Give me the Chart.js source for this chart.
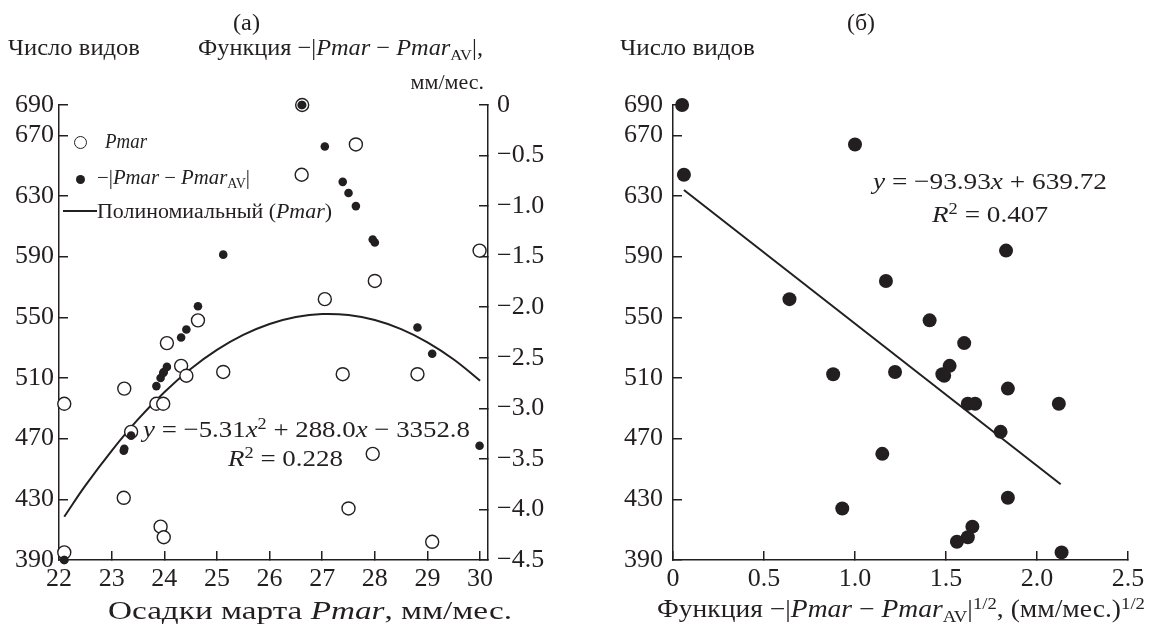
<!DOCTYPE html>
<html lang="ru">
<head>
<meta charset="utf-8">
<script src="https://cdn.jsdelivr.net/npm/chart.js@4.4.1/dist/chart.umd.min.js"></script>
<style>
  body { margin: 0; background: #fff; }
  #wrap { position: relative; width: 1152px; height: 626px; overflow: hidden;
          font-family: "Liberation Serif", "Times New Roman", serif; color: #231f20; }
  canvas { position: absolute; top: 0; }
  #chartA { left: 0; }
  #chartB { left: 576px; }
  .lbl { position: absolute; white-space: nowrap; line-height: 1; font-size: 23px; transform-origin: 0 0; }
  .lbl.eq { font-size: 24px; }
  .lbl.leg { font-size: 20px; }
  .lbl.xt { font-size: 25px; }
  .lbl sub { font-size: 0.68em; vertical-align: -0.3em; line-height: 0; }
  .lbl sup { font-size: 0.68em; vertical-align: 0.5em; line-height: 0; }
  .mark { position: absolute; box-sizing: border-box; border-radius: 50%; }
</style>
</head>
<body>
<div id="wrap">
  <canvas id="chartA" width="576" height="626"></canvas>
  <canvas id="chartB" width="576" height="626"></canvas>

  <div class="lbl" data-w="27" style="left:233px;top:11px">(а)</div>
  <div class="lbl" data-w="132" style="left:8px;top:36px">Число видов</div>
  <div class="lbl" data-w="285" style="left:198px;top:36px">Функция −|<i>Pmar</i> − <i>Pmar</i><sub>AV</sub>|,</div>
  <div class="lbl" style="right:668px;top:71px;font-size:22px">мм/мес.</div>

  <div class="lbl" data-w="28" style="left:847px;top:11px">(б)</div>
  <div class="lbl" data-w="135" style="left:620px;top:36px">Число видов</div>

  <div class="mark" style="left:73.5px;top:135.5px;width:13px;height:13px;border:1.4px solid #231f20;background:#fff"></div>
  <div class="lbl leg" data-w="42" style="left:105px;top:131px"><i>Pmar</i></div>
  <div class="mark" style="left:75.5px;top:174.5px;width:9px;height:9px;background:#231f20"></div>
  <div class="lbl leg" data-w="153" style="left:97px;top:167px">−|<i>Pmar</i> − <i>Pmar</i><sub>AV</sub>|</div>
  <div style="position:absolute;left:63px;top:210px;width:34px;height:2px;background:#231f20"></div>
  <div class="lbl leg" data-w="235" style="left:97px;top:201px">Полиномиальный (<i>Pmar</i>)</div>

  <div class="lbl eq" data-w="327" style="left:143px;top:417px"><i>y</i> = −5.31<i>x</i><sup>2</sup> + 288.0<i>x</i> − 3352.8</div>
  <div class="lbl eq" data-w="115" style="left:228px;top:446px"><i>R</i><sup>2</sup> = 0.228</div>
  <div class="lbl eq" data-w="234" style="left:873px;top:169px"><i>y</i> = −93.93<i>x</i> + 639.72</div>
  <div class="lbl eq" data-w="116" style="left:932px;top:202px"><i>R</i><sup>2</sup> = 0.407</div>

  <div class="lbl xt" data-w="404" style="left:108px;top:598px">Осадки марта <i>Pmar</i>, мм/мес.</div>
  <div class="lbl xt" data-w="488" style="left:657px;top:596px">Функция −|<i>Pmar</i> − <i>Pmar</i><sub>AV</sub>|<sup>1/2</sup>, (мм/мес.)<sup>1/2</sup></div>
</div>

<script>
// panel (а): March precipitation, number of species, and -|Pmar - PmarAV|
const pmarX = [26.62, 26.61, 27.64, 27.05, 28.0, 29.99, 24.64, 24.05, 25.12, 24.32, 24.42, 27.39, 28.81,
  23.24, 22.1, 23.85, 23.98, 23.37, 27.96, 23.23, 27.5, 23.93, 23.99, 29.09, 22.1];
const speciesCount = [690, 644, 664, 562, 574, 594, 548, 533, 514, 518, 511.5, 512.5, 512.5,
  503, 493, 493, 493, 474.5, 460, 431, 424, 412, 405, 402, 395];
const pmarDev = [0, 0, -1.0, -0.41, -1.36, -3.37, -1.99, -2.59, -1.48, -2.3, -2.22, -0.76, -2.2,
  -3.4, -4.5, -2.78, -2.65, -3.27, -1.33, -3.42, -0.87, -2.7, -2.64, -2.46, -4.5];

// polynomial trend (а)
const polyX = [22.1, 22.5, 23, 23.5, 24, 24.5, 25, 25.5, 26, 26.5, 27, 27.5, 28, 28.5, 29, 29.5, 30];
const polyY = [418.5, 439, 462, 482.7, 500.6, 515.9, 528.5, 538.4, 545.6, 550.2, 552.2, 551.5,
  548.2, 542.2, 533.5, 522.2, 508.2];

// panel (б): |Pmar - PmarAV|^1/2 for the same years
const devRootX = [0.05, 0.06, 1.0, 0.64, 1.17, 1.83, 1.41, 1.6, 1.22, 1.52, 1.49, 0.88, 1.48,
  1.84, 2.12, 1.66, 1.62, 1.8, 1.15, 1.84, 0.93, 1.645, 1.62, 1.56, 2.135];
const linX = [0.06, 2.13];
const linY = [634, 440];

// tick labels
const countTicks = [390, 430, 470, 510, 550, 590, 630, 670, 690];
const devTicks = [0, -0.5, -1.0, -1.5, -2.0, -2.5, -3.0, -3.5, -4.0, -4.5];
const pmarTicks = [22, 23, 24, 25, 26, 27, 28, 29, 30];
const rootTicks = [0, 0.5, 1.0, 1.5, 2.0, 2.5];

const ink = "#231f20";
Chart.defaults.font.family = "'Liberation Serif', 'Times New Roman', serif";
Chart.defaults.color = ink;

const tickFont = { size: 26 };

function fixedTicks(values) {
  return (scale) => { scale.ticks = values.map((v) => ({ value: v })); };
}

function yAxis(position, min, max, values, width, fmt, pad) {
  return {
    type: "linear",
    position,
    min,
    max,
    afterBuildTicks: fixedTicks(values),
    afterFit: (scale) => {
      scale.width = width;
      scale.paddingTop = 0;
      scale.paddingBottom = 0;
    },
    border: { display: true, color: ink, width: 1.5 },
    grid: { drawOnChartArea: false, drawTicks: true, tickLength: -9, color: ink, lineWidth: 1.5 },
    ticks: { font: tickFont, color: ink, padding: pad, callback: fmt },
  };
}

function xAxis(min, max, values, fmt) {
  return {
    type: "linear",
    position: "bottom",
    min,
    max,
    afterBuildTicks: fixedTicks(values),
    afterFit: (scale) => {
      scale.height = 66;
      scale.paddingLeft = 0;
      scale.paddingRight = 0;
    },
    border: { display: true, color: ink, width: 1.5 },
    grid: { drawOnChartArea: false, drawTicks: true, tickLength: -9, color: ink, lineWidth: 1.5 },
    ticks: { font: tickFont, color: ink, padding: 13, maxRotation: 0, callback: fmt },
  };
}

const baseOptions = {
  responsive: false,
  animation: false,
  events: [],
  plugins: { legend: { display: false }, tooltip: { enabled: false } },
};

new Chart(document.getElementById("chartA"), {
  type: "scatter",
  data: {
    datasets: [
      {
        label: "dev",
        data: pmarX.map((x, i) => ({ x, y: pmarDev[i] })),
        yAxisID: "y2",
        pointRadius: 4.3,
        backgroundColor: ink,
        borderWidth: 0,
        order: 0,
        clip: false,
      },
      {
        label: "Pmar",
        data: pmarX.map((x, i) => ({ x, y: speciesCount[i] })),
        yAxisID: "y",
        pointRadius: 6.5,
        backgroundColor: "#fff",
        borderColor: ink,
        borderWidth: 1.4,
        order: 1,
        clip: false,
      },
      {
        label: "poly",
        data: polyX.map((x, i) => ({ x, y: polyY[i] })),
        yAxisID: "y",
        showLine: true,
        pointRadius: 0,
        borderColor: ink,
        borderWidth: 2,
        tension: 0.4,
        order: 2,
        clip: false,
      },
    ],
  },
  options: {
    ...baseOptions,
    layout: { padding: { top: 105, left: 0, right: 0, bottom: 0 } },
    scales: {
      x: xAxis(22, 30.15, pmarTicks, (v) => String(v)),
      y: yAxis("left", 390, 690, countTicks, 59, (v) => String(v), 14),
      y2: yAxis("right", -4.5, 0, devTicks, 88,
        (v) => (v === 0 ? "0" : "−" + Math.abs(v).toFixed(1)), 18),
    },
  },
});

new Chart(document.getElementById("chartB"), {
  type: "scatter",
  data: {
    datasets: [
      {
        label: "species",
        data: devRootX.map((x, i) => ({ x, y: speciesCount[i] })),
        pointRadius: 7,
        backgroundColor: ink,
        borderWidth: 0,
        order: 0,
        clip: false,
      },
      {
        label: "linear",
        data: linX.map((x, i) => ({ x, y: linY[i] })),
        showLine: true,
        pointRadius: 0,
        borderColor: ink,
        borderWidth: 2,
        order: 1,
        clip: false,
      },
    ],
  },
  options: {
    ...baseOptions,
    layout: { padding: { top: 105, left: 0, right: 24, bottom: 0 } },
    scales: {
      x: xAxis(0, 2.5, rootTicks, (v) => (v === 0 ? "0" : v.toFixed(1))),
      y: yAxis("left", 390, 690, countTicks, 97, (v) => String(v), 19),
    },
  },
});

// stretch each text label to the width it has in the figure
function fitLabels() {
  document.querySelectorAll(".lbl[data-w]").forEach((el) => {
    const w = el.getBoundingClientRect().width;
    if (w > 0) el.style.transform = `scaleX(${Number(el.dataset.w) / w})`;
  });
}
if (document.fonts && document.fonts.ready) {
  document.fonts.ready.then(fitLabels);
} else {
  fitLabels();
}
</script>
</body>
</html>
